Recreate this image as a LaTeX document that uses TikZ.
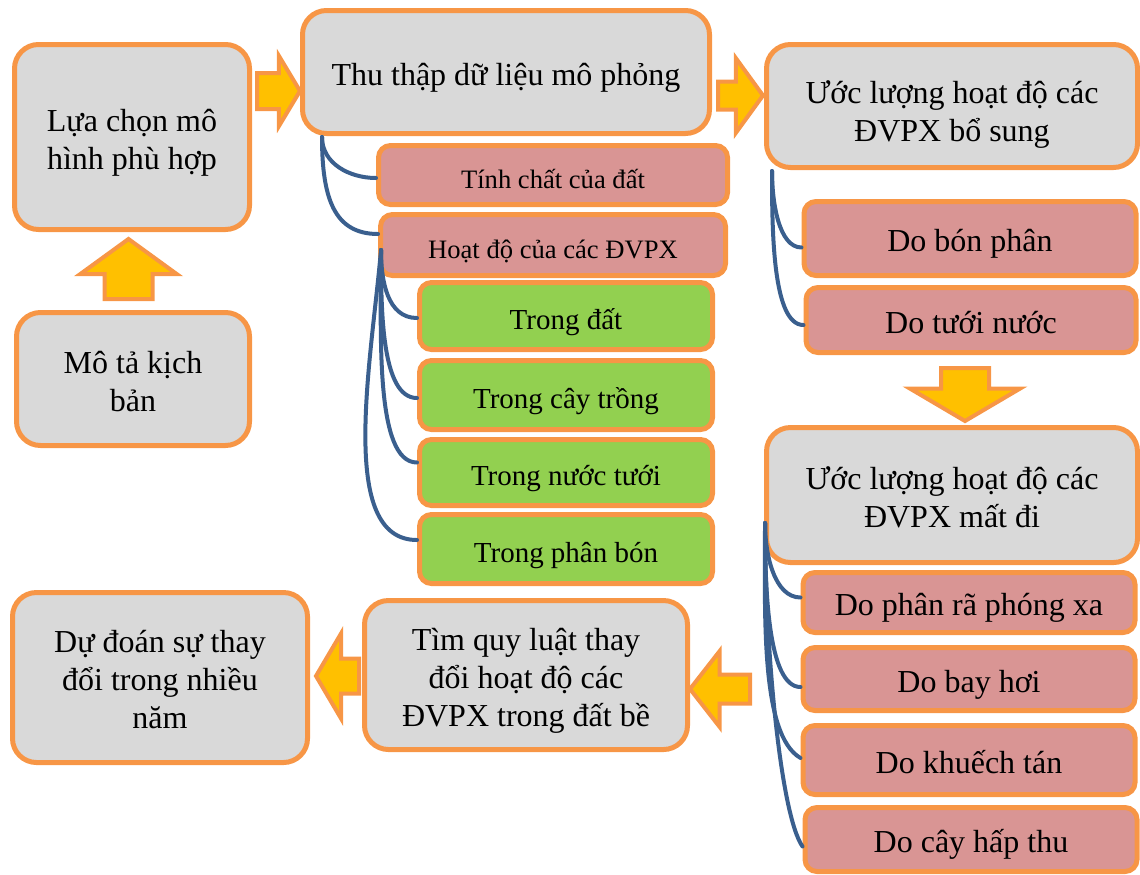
\documentclass[tikz,border=0pt]{standalone}
\usepackage{fontspec}
\setmainfont{Liberation Serif}
\usetikzlibrary{shapes.arrows,calc}

\definecolor{naranja}{HTML}{F79646}
\definecolor{gris}{HTML}{D9D9D9}
\definecolor{rosa}{HTML}{D99594}
\definecolor{verde}{HTML}{92D050}
\definecolor{amarillo}{HTML}{FFC000}
\definecolor{azul}{HTML}{3A5F8E}

% puntales para bajar el texto como en el original
\newcommand{\alto}[1][17pt]{\rule{0pt}{#1}}
\newcommand{\bajo}{\rule[-4pt]{0pt}{4pt}}

\tikzset{
  estilo mapa/.style={
      x=0.5pt, y=0.5pt,
      caja/.style={draw=naranja, line width=2.5pt, fill=gris, rounded corners=12pt,
          align=center, inner sep=2pt, font=\fontsize{16}{19}\selectfont,
          execute at begin node={\rule[-4pt]{0pt}{21pt}}},
      sub/.style={draw=naranja, line width=2.5pt, fill=rosa, rounded corners=6pt,
          align=center, inner sep=1pt, font=\fontsize{16}{19}\selectfont,
          execute at begin node={\rule[-4pt]{0pt}{21pt}}},
      subchico/.style={sub, font=\fontsize{13.3}{16}\selectfont,
          execute at begin node={\rule[-3.3pt]{0pt}{16.9pt}}},
      hoja/.style={sub, fill=verde, font=\fontsize{14.5}{17}\selectfont,
          execute at begin node={\rule[-3.6pt]{0pt}{18.7pt}}},
      flecha/.style={single arrow, draw=naranja, line width=2pt, fill=amarillo, anchor=tail},
      ramal/.style={draw=azul, line width=2pt, line cap=round, out=-90, in=180},
    },
}

\begin{document}
\begin{tikzpicture}[estilo mapa]
  \useasboundingbox (0,0) rectangle (1140,-874);

  % cajas principales
  \node[caja, minimum width=117.5pt, minimum height=92.5pt] (modelo) at (132,-137) {\alto Lựa chọn mô\\hình phù hợp\bajo};
  \node[caja, minimum width=116.5pt, minimum height=66.5pt] (kichban) at (133,-379) {\alto Mô tả kịch\\bản\bajo};
  \node[caja, minimum width=203.5pt, minimum height=61.5pt] (thuthap) at (506,-72) {Thu thập dữ liệu mô phỏng};
  \node[caja, minimum width=185.5pt, minimum height=61.5pt] (bosung) at (952,-106) {\alto[20pt]Ước lượng hoạt độ các\\ĐVPX bổ sung\bajo};
  \node[caja, minimum width=185.5pt, minimum height=67.5pt] (matdi) at (952,-495) {\alto Ước lượng hoạt độ các\\ĐVPX mất đi\bajo};
  \node[caja, minimum width=161.5pt, minimum height=74.5pt] (quyluat) at (526,-675) {\alto Tìm quy luật thay\\đổi hoạt độ các\\ĐVPX trong đất bề\bajo};
  \node[caja, minimum width=147.5pt, minimum height=85pt] (dudoan) at (160,-677.5) {\alto Dự đoán sự thay\\đổi trong nhiều\\năm\bajo};

  % datos
  \node[subchico, minimum width=174.5pt, minimum height=29.5pt] (tinhchat) at (553,-175) {Tính chất của đất};
  \node[subchico, minimum width=172.5pt, minimum height=30.5pt] (hoatdo) at (553,-245) {Hoạt độ của các ĐVPX};
  \node[hoja, minimum width=146.5pt, minimum height=33.5pt] (dat) at (566,-316) {Trong đất};
  \node[hoja, minimum width=146.5pt, minimum height=34.5pt] (cay) at (566,-395) {Trong cây trồng};
  \node[hoja, minimum width=146.5pt, minimum height=33pt] (nuoc) at (566,-472.5) {Trong nước tưới};
  \node[hoja, minimum width=146.5pt, minimum height=34.5pt] (phan) at (566,-549) {Trong phân bón};

  % bo sung / mat di
  \node[sub, minimum width=166pt, minimum height=37pt] (bonphan) at (970,-238.5) {Do bón phân};
  \node[sub, minimum width=165pt, minimum height=32.5pt] (tuoinuoc) at (971,-320) {Do tưới nước};
  \node[sub, minimum width=166pt, minimum height=30pt] (phanra) at (969,-602.5) {Do phân rã phóng xa};
  \node[sub, minimum width=166pt, minimum height=31.5pt] (bayhoi) at (969,-679) {Do bay hơi};
  \node[sub, minimum width=166pt, minimum height=34.5pt] (khuech) at (969,-760) {Do khuếch tán};
  \node[sub, minimum width=166pt, minimum height=32pt] (hapthu) at (971,-839.5) {Do cây hấp thu};

  % flechas gruesas
  \node[flecha, inner xsep=0pt, inner ysep=8pt, minimum height=21.5pt, single arrow head extend=8.5pt, single arrow tip angle=118] (f1) at (255,-91) {};
  \node[flecha, inner xsep=0pt, inner ysep=6pt, minimum height=22.5pt, single arrow head extend=11.75pt, single arrow tip angle=108] (f2) at (716,-95.5) {};
  \node[flecha, shape border rotate=90, inner ysep=0pt, inner xsep=11pt, minimum height=30pt, single arrow head extend=12.25pt, single arrow tip angle=108] (f3) at (128.5,-301) {};
  \node[flecha, shape border rotate=270, inner ysep=0pt, inner xsep=11pt, minimum height=26.5pt, single arrow head extend=15.5pt, single arrow tip angle=119] (f4) at (965,-366) {};
  \node[flecha, shape border rotate=180, inner xsep=0pt, inner ysep=7.75pt, minimum height=21.5pt, single arrow head extend=12.5pt, single arrow tip angle=119] (f5) at (361,-676) {};
  \node[flecha, shape border rotate=180, inner xsep=0pt, inner ysep=6.25pt, minimum height=30pt, single arrow head extend=11.75pt, single arrow tip angle=104] (f6) at (752,-689) {};

  % ramas
  \coordinate (r1) at ($(thuthap.south west)+(22,-1)$);
  \coordinate (r2) at ($(hoatdo.west)+(3,-5)$);
  \coordinate (r3) at ($(bosung.south west)+(8,-1)$);
  \coordinate (r4) at ($(matdi.west)+(1,-28)$);

  \draw[ramal] (r1) to ([yshift=-1.5pt]tinhchat.west);
  \draw[ramal, out looseness=1.4] (r1) to ([yshift=5.5pt]hoatdo.west);

  \draw[ramal] (r2) to ([yshift=-1pt]dat.west);
  \draw[ramal, in looseness=0.6] (r2) to ([yshift=-1.5pt]cay.west);
  \draw[ramal, in looseness=0.5] (r2) to ([yshift=5pt]nuoc.west);
  \draw[ramal, out=-95, in looseness=0.7] (r2) to ([yshift=4.5pt]phan.west);

  \draw[ramal, in looseness=0.7] (r3) to ([yshift=-4.5pt]bonphan.west);
  \draw[ramal, in looseness=0.5] (r3) to ([yshift=-2.5pt]tuoinuoc.west);

  \draw[ramal, in looseness=0.8] (r4) to ([yshift=2.5pt]phanra.west);
  \draw[ramal, in looseness=0.5] (r4) to ([yshift=-4pt]bayhoi.west);
  \draw[ramal, in=150, in looseness=0.5] (r4) to ([yshift=1pt]khuech.west);
  \draw[ramal, in=125, in looseness=0.3] (r4) to ([yshift=-3.5pt]hapthu.west);
\end{tikzpicture}
\end{document}
